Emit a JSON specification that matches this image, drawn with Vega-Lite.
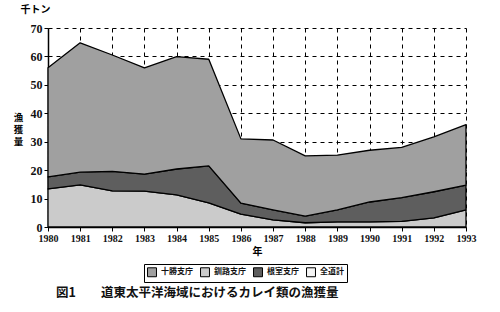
{
  "$schema": "https://vega.github.io/schema/vega-lite/v6.json",
  "width": 418,
  "height": 199,
  "autosize": {"type": "none"},
  "padding": {"left": 48, "top": 28, "right": 34, "bottom": 85},
  "background": "white",
  "config": {
    "view": {"stroke": null},
    "font": "Noto Sans CJK JP"
  },
  "title": {
    "text": "図1　　道東太平洋海域におけるカレイ類の漁獲量",
    "orient": "bottom",
    "anchor": "start",
    "frame": "group",
    "offset": 4,
    "dx": 8,
    "font": "Noto Sans CJK JP",
    "fontSize": 12.5,
    "fontWeight": "bold",
    "color": "#111"
  },
  "data": {
    "values": [
      {"year": 1980, "series": "釧路支庁", "value": 13.4},
      {"year": 1981, "series": "釧路支庁", "value": 14.8},
      {"year": 1982, "series": "釧路支庁", "value": 12.7},
      {"year": 1983, "series": "釧路支庁", "value": 12.6},
      {"year": 1984, "series": "釧路支庁", "value": 11.3},
      {"year": 1985, "series": "釧路支庁", "value": 8.5},
      {"year": 1986, "series": "釧路支庁", "value": 4.5},
      {"year": 1987, "series": "釧路支庁", "value": 2.5},
      {"year": 1988, "series": "釧路支庁", "value": 1.5},
      {"year": 1989, "series": "釧路支庁", "value": 1.8},
      {"year": 1990, "series": "釧路支庁", "value": 1.8},
      {"year": 1991, "series": "釧路支庁", "value": 2.0},
      {"year": 1992, "series": "釧路支庁", "value": 3.2},
      {"year": 1993, "series": "釧路支庁", "value": 6.0},
      {"year": 1980, "series": "根室支庁", "value": 4.2},
      {"year": 1981, "series": "根室支庁", "value": 4.5},
      {"year": 1982, "series": "根室支庁", "value": 6.9},
      {"year": 1983, "series": "根室支庁", "value": 6.0},
      {"year": 1984, "series": "根室支庁", "value": 9.1},
      {"year": 1985, "series": "根室支庁", "value": 13.0},
      {"year": 1986, "series": "根室支庁", "value": 3.9},
      {"year": 1987, "series": "根室支庁", "value": 3.5},
      {"year": 1988, "series": "根室支庁", "value": 2.3},
      {"year": 1989, "series": "根室支庁", "value": 4.2},
      {"year": 1990, "series": "根室支庁", "value": 7.0},
      {"year": 1991, "series": "根室支庁", "value": 8.3},
      {"year": 1992, "series": "根室支庁", "value": 9.2},
      {"year": 1993, "series": "根室支庁", "value": 8.7},
      {"year": 1980, "series": "十勝支庁", "value": 38.4},
      {"year": 1981, "series": "十勝支庁", "value": 45.5},
      {"year": 1982, "series": "十勝支庁", "value": 40.9},
      {"year": 1983, "series": "十勝支庁", "value": 37.4},
      {"year": 1984, "series": "十勝支庁", "value": 39.5},
      {"year": 1985, "series": "十勝支庁", "value": 37.5},
      {"year": 1986, "series": "十勝支庁", "value": 22.6},
      {"year": 1987, "series": "十勝支庁", "value": 24.6},
      {"year": 1988, "series": "十勝支庁", "value": 21.2},
      {"year": 1989, "series": "十勝支庁", "value": 19.3},
      {"year": 1990, "series": "十勝支庁", "value": 18.2},
      {"year": 1991, "series": "十勝支庁", "value": 17.7},
      {"year": 1992, "series": "十勝支庁", "value": 19.3},
      {"year": 1993, "series": "十勝支庁", "value": 21.3}
    ]
  },
  "resolve": {"axis": {"y": "independent"}},
  "layer": [
    {
      "mark": {"type": "area", "opacity": 1, "strokeWidth": 1.3, "strokeJoin": "round"},
      "encoding": {
        "x": {
          "field": "year",
          "type": "quantitative",
          "scale": {"domain": [1980, 1993], "nice": false, "zero": false},
          "axis": {
            "values": [1980, 1981, 1982, 1983, 1984, 1985, 1986, 1987, 1988, 1989, 1990, 1991, 1992, 1993],
            "format": "d",
            "title": "年",
            "titleFont": "Noto Sans CJK JP",
            "titleFontSize": 10,
            "titleFontWeight": "bold",
            "titlePadding": 3,
            "labelFont": "Liberation Serif",
            "labelFontSize": 10,
            "labelFontWeight": "bold",
            "labelColor": "#111",
            "labelPadding": 2,
            "labelFlush": false,
            "labelOverlap": false,
            "domainColor": "black",
            "domainWidth": 1.5,
            "tickColor": "black",
            "tickSize": 4,
            "grid": true,
            "gridColor": "black",
            "gridDash": [4, 4],
            "gridWidth": 1
          }
        },
        "y": {
          "field": "value",
          "type": "quantitative",
          "stack": "zero",
          "scale": {"domain": [0, 70], "nice": false},
          "axis": {
            "values": [0, 10, 20, 30, 40, 50, 60, 70],
            "title": ["漁", "獲", "量"],
            "titleAngle": 0,
            "titleAlign": "center",
            "titleBaseline": "top",
            "titleX": -30,
            "titleY": 84,
            "titleLineHeight": 12,
            "titleFont": "Noto Sans CJK JP",
            "titleFontSize": 9.5,
            "titleFontWeight": "bold",
            "labelFont": "Liberation Serif",
            "labelFontSize": 12,
            "labelFontWeight": "bold",
            "labelColor": "#111",
            "labelPadding": 2,
            "domainColor": "black",
            "domainWidth": 1.5,
            "tickColor": "black",
            "tickSize": 4,
            "grid": true,
            "gridColor": "black",
            "gridDash": [4, 4],
            "gridWidth": 1
          }
        },
        "color": {
          "field": "series",
          "type": "nominal",
          "scale": {
            "domain": ["十勝支庁", "釧路支庁", "根室支庁", "全道計"],
            "range": ["#a0a0a0", "#cbcbcb", "#5e5e5e", "#f4f4f4"]
          },
          "legend": {
            "orient": "none",
            "direction": "horizontal",
            "legendX": 96,
            "legendY": 236,
            "title": null,
            "symbolType": "square",
            "symbolSize": 80,
            "symbolStrokeColor": "black",
            "symbolStrokeWidth": 1,
            "labelFont": "Noto Sans CJK JP",
            "labelFontSize": 8,
            "labelFontWeight": "bold",
            "labelColor": "#111",
            "columnPadding": 5,
            "symbolOffset": 0,
            "padding": 3,
            "strokeColor": "black",
            "fillColor": "white"
          }
        },
        "stroke": {"value": "black"},
        "order": {"field": "series", "sort": "descending"}
      }
    },
    {
      "mark": {"type": "rule", "opacity": 0},
      "encoding": {
        "y": {
          "datum": 0,
          "type": "quantitative",
          "axis": {
            "orient": "left",
            "title": "千トン",
            "titleAngle": 0,
            "titleAlign": "left",
            "titleBaseline": "bottom",
            "titleX": -28,
            "titleY": -14,
            "titleFont": "Noto Sans CJK JP",
            "titleFontSize": 10,
            "titleFontWeight": "bold",
            "labels": false,
            "ticks": false,
            "domain": false,
            "grid": false
          }
        }
      }
    }
  ]
}
